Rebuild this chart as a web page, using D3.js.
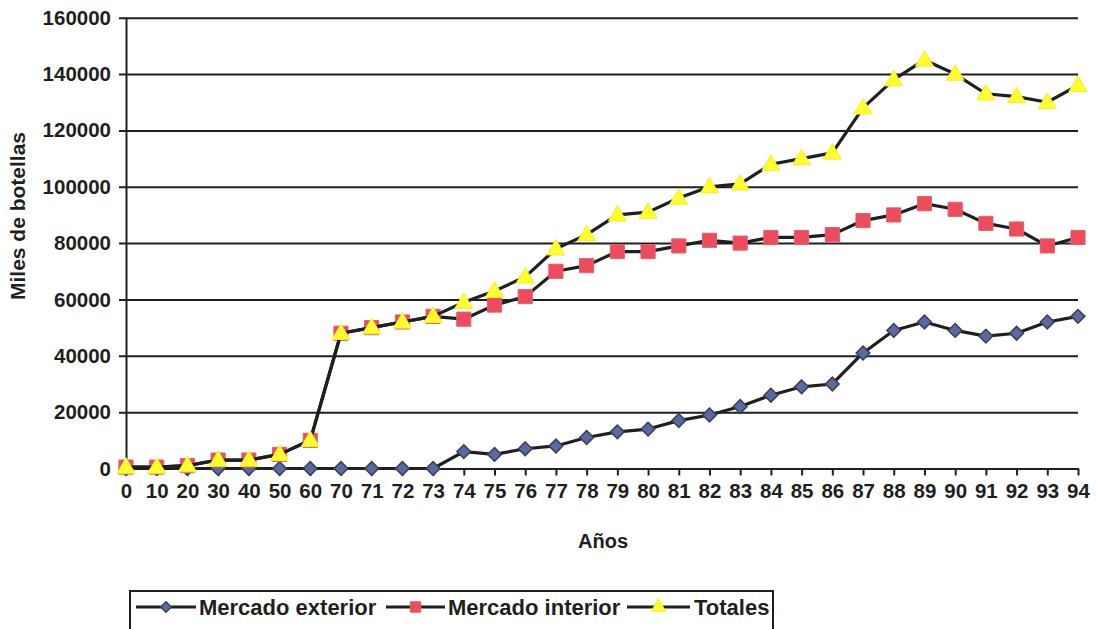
<!DOCTYPE html>
<html>
<head>
<meta charset="utf-8">
<script src="https://cdn.jsdelivr.net/npm/d3@7"></script>
<style>
  html, body { margin: 0; padding: 0; background: #fff; }
  svg { display: block; font-family: "Liberation Sans", Arial, sans-serif; }
</style>
</head>
<body>
<svg id="chart" width="1096" height="629"></svg>
<script>
// Años (categorías del eje X)
const years = ["0","10","20","30","40","50","60","70","71","72","73","74","75","76","77",
  "78","79","80","81","82","83","84","85","86","87","88","89","90","91","92","93","94"];

// Miles de botellas
const mercadoExterior = [0,0,0,0,0,0,0,0,0,0,0,6000,5000,7000,8000,
  11000,13000,14000,17000,19000,22000,26000,29000,30000,41000,49000,52000,49000,47000,48000,52000,54000];
const mercadoInterior = [500,500,1000,3000,3000,5000,10000,48000,50000,52000,54000,53000,58000,61000,70000,
  72000,77000,77000,79000,81000,80000,82000,82000,83000,88000,90000,94000,92000,87000,85000,79000,82000];
const totales = [500,500,1000,3000,3000,5000,10000,48000,50000,52000,54000,59000,63000,68000,78000,
  83000,90000,91000,96000,100000,101000,108000,110000,112000,128000,138000,145000,140000,133000,132000,130000,136000];

const yTicks = [0,20000,40000,60000,80000,100000,120000,140000,160000];

const seriesNames = ["Mercado exterior", "Mercado interior", "Totales"];

const svg = d3.select("#chart");
const ink = "#1f1f1f";

const x = d3.scalePoint().domain(years).range([126, 1078]);
const y = d3.scaleLinear().domain([0, 160000]).range([468.5, 17.7]);

// Horizontal gridlines with left tick marks and labels
const yAxis = d3.axisLeft(y).tickValues(yTicks).tickSize(-(1078 - 126)).tickSizeOuter(0)
  .tickFormat(d3.format("d")).tickPadding(16);
const gy = svg.append("g").attr("transform", "translate(126,0)").call(yAxis);
gy.select(".domain").remove();
gy.selectAll(".tick line").attr("stroke", ink).attr("stroke-width", 2).attr("x1", -7);
gy.selectAll(".tick text").attr("fill", ink).attr("font-size", 20.5).attr("font-weight", "bold")
  .attr("x", -15);

// Vertical axis line
svg.append("line").attr("x1", 126.5).attr("x2", 126.5)
  .attr("y1", y(0)).attr("y2", y(160000)).attr("stroke", ink).attr("stroke-width", 2);

// X axis with tick marks
const xAxis = d3.axisBottom(x).tickSize(7).tickSizeOuter(0).tickPadding(8);
const gx = svg.append("g").attr("transform", `translate(0,${y(0)})`).call(xAxis);
gx.select(".domain").attr("stroke", ink).attr("stroke-width", 2);
gx.selectAll(".tick line").attr("stroke", ink).attr("stroke-width", 2);
gx.selectAll(".tick text").attr("fill", ink).attr("font-size", 20.5).attr("font-weight", "bold");

// Axis titles
svg.append("text").attr("x", 603).attr("y", 548).attr("text-anchor", "middle")
  .attr("font-size", 20).attr("font-weight", "bold").attr("fill", ink).text("Años");
svg.append("text").attr("transform", "translate(25,216) rotate(-90)").attr("text-anchor", "middle")
  .attr("font-size", 21).attr("font-weight", "bold").attr("fill", ink).text("Miles de botellas");

// Marker shapes
const markers = [
  { sym: d3.symbolDiamond2, size: 120, fill: "#5a6aa0", stroke: "#3a3f55", sw: 1.5 },
  { sym: d3.symbolSquare, size: 200, fill: "#ec4c5c", stroke: "#e0606a", sw: 1 },
  { sym: d3.symbolTriangle, size: 140, fill: "#ffff30", stroke: "#f2ee30", sw: 1 }
];
const allSeries = [mercadoExterior, mercadoInterior, totales];

const line = d3.line().x((d, i) => x(years[i])).y(d => y(d));

allSeries.forEach((vals, s) => {
  const g = svg.append("g");
  g.append("path").datum(vals).attr("d", line).attr("fill", "none")
    .attr("stroke", ink).attr("stroke-width", 3.2).attr("stroke-linejoin", "round");
  const m = markers[s];
  g.selectAll("path.mk").data(vals).join("path").attr("class", "mk")
    .attr("transform", (d, i) => `translate(${x(years[i])},${y(d) + (s === 2 ? 1 : 0)})`)
    .attr("d", d3.symbol(m.sym, m.size)())
    .attr("fill", m.fill).attr("stroke", m.stroke).attr("stroke-width", m.sw);
});

// Legend
const legend = svg.append("g");
legend.append("rect").attr("x", 130).attr("y", 591).attr("width", 643).attr("height", 45)
  .attr("fill", "#fff").attr("stroke", ink).attr("stroke-width", 2);
const legendItems = [
  { x0: 136, x1: 196, tx: 199 },
  { x0: 386, x1: 445, tx: 448 },
  { x0: 627, x1: 690, tx: 694 }
];
const legendMarkers = [70, 110, 90];
legendItems.forEach((it, s) => {
  const cy = 607;
  legend.append("line").attr("x1", it.x0).attr("x2", it.x1).attr("y1", cy).attr("y2", cy)
    .attr("stroke", ink).attr("stroke-width", 3);
  const m = markers[s];
  legend.append("path").attr("transform", `translate(${(it.x0 + it.x1) / 2},${cy})`)
    .attr("d", d3.symbol(m.sym, legendMarkers[s])()).attr("fill", m.fill)
    .attr("stroke", m.stroke).attr("stroke-width", m.sw);
  legend.append("text").attr("x", it.tx).attr("y", cy + 8).attr("font-size", 22)
    .attr("font-weight", "bold").attr("fill", ink).text(seriesNames[s]);
});
</script>
</body>
</html>
